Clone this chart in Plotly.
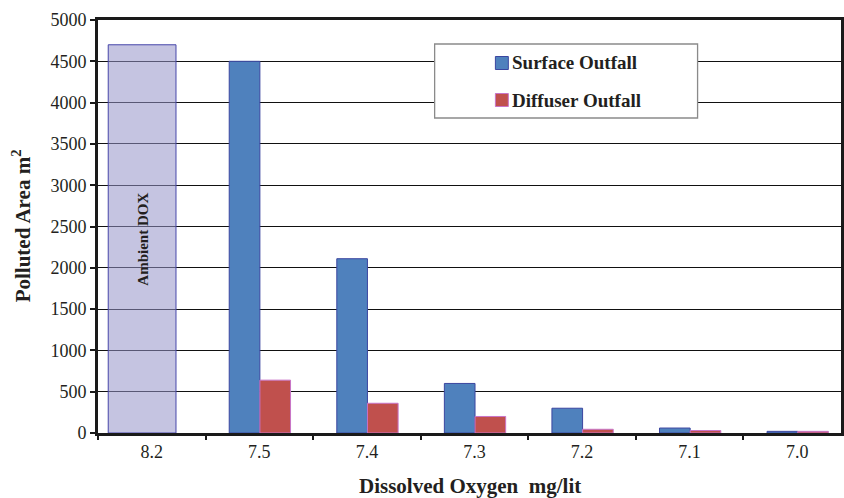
import plotly.graph_objects as go

# Dissolved-oxygen levels (mg/lit) on the category axis
do_levels = ["8.2", "7.5", "7.4", "7.3", "7.2", "7.1", "7.0"]

# Ambient DO level shown as a single wide reference bar
ambient_level = ["8.2"]
ambient_area = [4700]

# Polluted area (m^2) for each outfall type at the lower DO levels
outfall_levels = ["7.5", "7.4", "7.3", "7.2", "7.1", "7.0"]
surface_area = [4500, 2110, 600, 300, 60, 20]
diffuser_area = [640, 360, 200, 45, 30, 20]

y_ticks = [0, 500, 1000, 1500, 2000, 2500, 3000, 3500, 4000, 4500, 5000]

SERIF = '"Liberation Serif", "Times New Roman", Times, serif'
INK = "#231f20"
SURFACE_FILL, SURFACE_EDGE = "#4f81bd", "#3b46a0"
DIFFUSER_FILL, DIFFUSER_EDGE = "#c0504d", "#c874c8"

W, H = 844, 498
M_L, M_R, M_T, M_B = 98, 0, 20, 65
PLOT_W, PLOT_H = W - M_L - M_R, H - M_T - M_B


def px_x(x):
    """pixel column -> paper x"""
    return (x - M_L) / PLOT_W


def px_y(y):
    """pixel row -> paper y"""
    return (H - M_B - y) / PLOT_H


fig = go.Figure()

fig.add_trace(go.Bar(
    x=ambient_level, y=ambient_area, name="Ambient DOX",
    width=0.63, offset=-0.405,
    marker=dict(color="rgba(150,148,200,0.55)",
                line=dict(color="#4646aa", width=1)),
    showlegend=False,
))
fig.add_trace(go.Bar(
    x=outfall_levels, y=surface_area, name="Surface Outfall",
    width=0.285, offset=-0.28,
    marker=dict(color=SURFACE_FILL, line=dict(color=SURFACE_EDGE, width=1)),
    showlegend=False,
))
fig.add_trace(go.Bar(
    x=outfall_levels, y=diffuser_area, name="Diffuser Outfall",
    width=0.285, offset=0.005,
    marker=dict(color=DIFFUSER_FILL, line=dict(color=DIFFUSER_EDGE, width=1)),
    showlegend=False,
))

# Boxed legend
shapes = [dict(
    type="rect", xref="paper", yref="paper", layer="above",
    x0=px_x(436), x1=px_x(700), y0=px_y(118), y1=px_y(44),
    fillcolor="white", line=dict(color="#8a8a8a", width=1.3),
)]
annotations = []
for label, fill, edge, cy in [("Surface Outfall", SURFACE_FILL, SURFACE_EDGE, 63),
                              ("Diffuser Outfall", DIFFUSER_FILL, DIFFUSER_EDGE, 100)]:
    shapes.append(dict(
        type="rect", xref="paper", yref="paper", layer="above",
        x0=px_x(497), x1=px_x(510), y0=px_y(cy + 6.5), y1=px_y(cy - 6.5),
        fillcolor=fill, line=dict(color=edge, width=1),
    ))
    annotations.append(dict(
        text=f"<b>{label}</b>", xref="paper", yref="paper",
        x=px_x(512), y=px_y(cy), xanchor="left", yanchor="middle",
        showarrow=False, font=dict(family=SERIF, size=19, color=INK),
    ))

# Label inside the ambient bar (x given as category index)
annotations.append(dict(
    text="<b>Ambient DOX</b>", x=do_levels.index(ambient_level[0]), y=2350,
    xref="x", yref="y",
    xshift=-9, textangle=-90, showarrow=False,
    font=dict(family=SERIF, size=15, color=INK),
))

# Axis titles
annotations.append(dict(
    text="<b>Dissolved Oxygen  mg/lit</b>", xref="paper", yref="paper",
    x=0.5, y=px_y(486), xanchor="center", yanchor="middle", showarrow=False,
    font=dict(family=SERIF, size=21, color=INK),
))
annotations.append(dict(
    text="<b>Polluted Area m<sup>2</sup></b>", xref="paper", yref="paper",
    x=px_x(21), y=px_y(226), xanchor="center", yanchor="middle",
    textangle=-90, showarrow=False,
    font=dict(family=SERIF, size=21, color=INK),
))

fig.update_layout(
    width=W, height=H,
    margin=dict(l=M_L, r=M_R, t=M_T, b=M_B),
    paper_bgcolor="white", plot_bgcolor="white",
    barmode="overlay",
    showlegend=False,
    shapes=shapes,
    annotations=annotations,
    font=dict(family=SERIF, color=INK),
    xaxis=dict(
        type="category", categoryorder="array", categoryarray=do_levels,
        range=[-0.5, -0.5 + PLOT_W / 108],
        tickson="boundaries", ticks="outside", ticklen=4, tickwidth=1.5,
        tickcolor="#1a1a1a",
        showline=True, linewidth=3, linecolor="#1a1a1a", mirror=True,
        showgrid=False, zeroline=False,
        tickfont=dict(family=SERIF, size=18, color=INK),
    ),
    yaxis=dict(
        range=[0, 5000], tickvals=y_ticks,
        ticks="outside", ticklen=5, tickwidth=1.5, tickcolor="#1a1a1a",
        showline=True, linewidth=3, linecolor="#1a1a1a", mirror=True,
        showgrid=True, gridcolor="#111111", gridwidth=1.2, zeroline=False,
        tickfont=dict(family=SERIF, size=18, color=INK),
    ),
)

fig.write_html("out.html")
